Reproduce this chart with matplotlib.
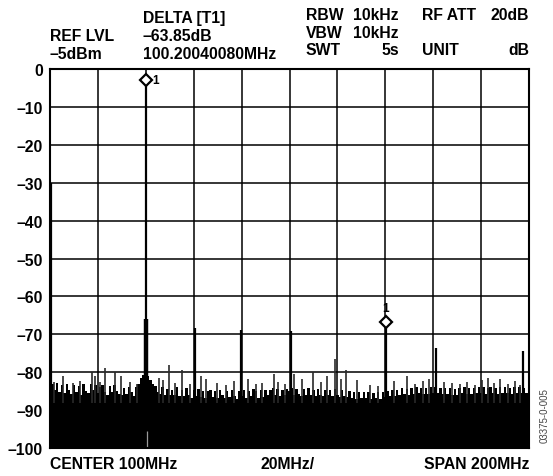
import numpy as np
import matplotlib
matplotlib.use('Agg')
import matplotlib.pyplot as plt

plt.rcParams['font.family'] = ['Liberation Sans', 'DejaVu Sans']
plt.rcParams['font.weight'] = 'bold'

# --- data (MHz / dB) ---
span_start, span_stop = 0, 200
y_ticks = [0, -10, -20, -30, -40, -50, -60, -70, -80, -90, -100]
y_tick_labels = ['0', '–10', '–20', '–30', '–40', '–50', '–60', '–70', '–80', '–90', '–100']

# noise floor top, one value per MHz (0..200)
noise_freq = np.arange(0, 201)
noise_top = [
    -80.8, -83.0, -84.6, -82.9, -85.2, -83.4, -85.4, -83.1, -84.8, -85.7,
    -83.5, -85.1, -83.6, -85.9, -83.2, -84.9, -85.6, -83.0, -84.7, -83.3,
    -85.5, -84.0, -83.4, -85.2, -85.9, -83.7, -85.3, -83.3, -84.9, -85.8,
    -86.1, -84.1, -85.7, -83.8, -85.3, -86.2, -84.0, -83.0, -81.6, -80.8,
    -80.2, -81.0, -82.0, -83.2, -83.6, -85.2, -85.8, -83.9, -85.9, -84.4,
    -86.1, -84.6, -85.9, -84.0, -86.3, -84.7, -86.4, -84.3, -85.9, -86.7,
    -84.8, -86.3, -84.5, -86.5, -84.9, -86.8, -85.0, -84.6, -86.6, -84.9,
    -86.7, -84.7, -86.1, -86.9, -84.9, -86.5, -84.8, -86.2, -87.0, -85.0,
    -86.4, -84.8, -86.7, -84.9, -86.2, -84.5, -85.0, -86.8, -84.8, -86.5,
    -84.6, -86.1, -84.7, -84.2, -86.0, -84.4, -86.3, -84.8, -86.1, -84.5,
    -84.9, -84.3, -86.1, -84.4, -85.8, -86.2, -84.5, -86.0, -84.3, -85.9,
    -84.6, -86.2, -84.4, -86.0, -86.4, -84.6, -86.1, -84.7, -86.3, -84.5,
    -86.0, -86.5, -84.7, -86.2, -86.6, -85.0, -86.8, -85.2, -87.0, -85.3,
    -86.9, -85.1, -86.8, -85.2, -87.1, -85.4, -86.9, -85.3, -87.0, -85.1,
    -86.6, -84.9, -86.4, -84.7, -86.2, -84.6, -86.1, -84.3, -85.8, -84.4,
    -85.9, -84.2, -85.7, -84.0, -85.6, -84.1, -85.8, -84.3, -85.7, -83.9,
    -85.5, -84.0, -85.6, -84.2, -85.8, -84.1, -85.7, -84.3, -86.0, -84.4,
    -85.9, -84.2, -85.6, -84.0, -85.7, -84.3, -85.8, -84.1, -85.6, -83.9,
    -85.4, -84.0, -85.7, -84.2, -83.8, -85.5, -84.1, -85.7, -84.0, -85.4,
    -83.9, -85.6, -84.2, -85.7, -84.0, -85.5, -83.8, -85.4, -84.1, -85.6,
    -84.2,
]

# small spurs poking out of the noise
small_spur_freq = [1.8, 5.5, 9.4, 12.6, 17.5, 18.8, 21.0, 23.1, 27.1, 29.6, 33.4,
                   36.2, 45.5, 47.0, 49.7, 52.3, 55.0, 58.4, 62.9, 65.1, 69.7,
                   73.3, 76.8, 82.8, 86.0, 88.4, 93.5, 95.2, 98.1, 101.9, 105.4,
                   109.7, 113.2, 115.8, 119.0, 121.4, 123.6, 128.3, 133.5, 137.0,
                   143.6, 149.0, 152.4, 155.7, 158.2, 164.5, 167.7, 171.0, 174.2,
                   177.5, 180.3, 182.9, 185.4, 187.9, 191.3, 194.0, 196.2]
small_spur_level = [-82.5, -81.0, -82.8, -82.3, -80.0, -81.0, -82.6, -78.8, -80.0, -81.0, -82.6,
                    -83.0, -81.5, -82.0, -78.0, -82.9, -79.3, -83.2, -81.0, -81.8, -82.9,
                    -83.3, -82.4, -81.8, -83.1, -82.8, -80.6, -82.5, -83.0, -80.6, -81.8,
                    -80.0, -82.7, -81.0, -76.5, -81.8, -79.3, -82.0, -83.3, -83.6,
                    -82.2, -81.0, -83.0, -82.4, -81.8, -82.6, -82.8, -83.0, -82.5,
                    -83.5, -82.0, -81.6, -82.9, -81.8, -83.0, -82.2, -83.3]

# large spurs
spur_freq = [0.3, 60.5, 79.6, 100.5, 161.0, 197.6]
spur_level = [-30.0, -68.3, -68.8, -69.0, -73.6, -74.5]

# carrier and delta marker
carrier_freq = 40.1
carrier_level = -2.8
carrier_skirt_level = -66.0
carrier_notch_level = -95.5
delta_freq = 100.2004008
delta_db = -63.85
marker2_freq = carrier_freq + delta_freq
marker2_level = carrier_level + delta_db

W, H = 553, 477
fig = plt.figure(figsize=(W / 100, H / 100), dpi=100)
ax = fig.add_axes([50 / W, 1 - 449 / H, 479 / W, 379 / H])

# noise floor as filled trace
ax.fill_between(noise_freq, noise_top, -100, step='mid', color='black', linewidth=0, zorder=2)
ax.vlines(small_spur_freq, -88, small_spur_level, color='#2a2a2a', linewidth=1.2, zorder=2)
ax.vlines(spur_freq, -88, spur_level, color='black', linewidth=1.6, zorder=2)

# carrier
ax.vlines(carrier_freq, -88, carrier_level, color='black', linewidth=1.6, zorder=2)
ax.vlines(carrier_freq, -88, carrier_skirt_level, color='black', linewidth=3.2, zorder=2)
ax.vlines(carrier_freq + 0.3, -100, carrier_notch_level, color='#9a9a9a', linewidth=0.9, zorder=3)

# second marker spur
ax.vlines(marker2_freq, -88, marker2_level, color='black', linewidth=1.6, zorder=2)

# markers
ax.plot([carrier_freq, marker2_freq], [carrier_level, marker2_level], linestyle='none',
        marker='D', markersize=6.2, markerfacecolor='white', markeredgecolor='black',
        markeredgewidth=1.6, zorder=6)
ax.text(carrier_freq + 2.5, carrier_level, '1', fontsize=8.5, ha='left', va='center')
ax.text(marker2_freq, marker2_level + 2.0, '1', fontsize=8.5, ha='center', va='bottom')

ax.set_xlim(span_start, span_stop)
ax.set_ylim(-100, 0)
ax.set_xticks(np.arange(span_start, span_stop + 1, 20))
ax.set_xticklabels([])
ax.set_yticks(y_ticks)
ax.set_yticklabels(y_tick_labels, fontsize=11.3, fontweight='bold')
ax.tick_params(length=0, pad=5)
ax.grid(True, color='black', linewidth=1.1, zorder=1)
ax.set_axisbelow(True)
for s in ax.spines.values():
    s.set_linewidth(1.5)
    s.set_zorder(5)


def put(x, y, s, ha='left'):
    fig.text(x / W, 1 - y / H, s, ha=ha, va='baseline', fontsize=11.3, fontweight='bold')


put(50, 41, 'REF LVL')
put(50, 59, '–5dBm')
put(142.7, 23, 'DELTA [T1]')
put(142.7, 41, '–63.85dB')
put(142.7, 59, '100.20040080MHz')
put(305.7, 20, 'RBW')
put(353, 20, '10kHz')
put(305.7, 37.5, 'VBW')
put(353, 37.5, '10kHz')
put(305.7, 55, 'SWT')
put(399, 55, '5s', ha='right')
put(422, 20, 'RF ATT')
put(529, 20, '20dB', ha='right')
put(422, 55, 'UNIT')
put(529, 55, 'dB', ha='right')
put(50, 469, 'CENTER 100MHz')
put(288, 469, '20MHz/', ha='center')
put(529, 469, 'SPAN 200MHz', ha='right')

fig.text(545 / W, 1 - 416 / H, '03375-0-005', rotation=90, ha='center', va='center',
         fontsize=7, fontweight='normal', color='#444444')

fig.savefig('out.png', dpi=100)
